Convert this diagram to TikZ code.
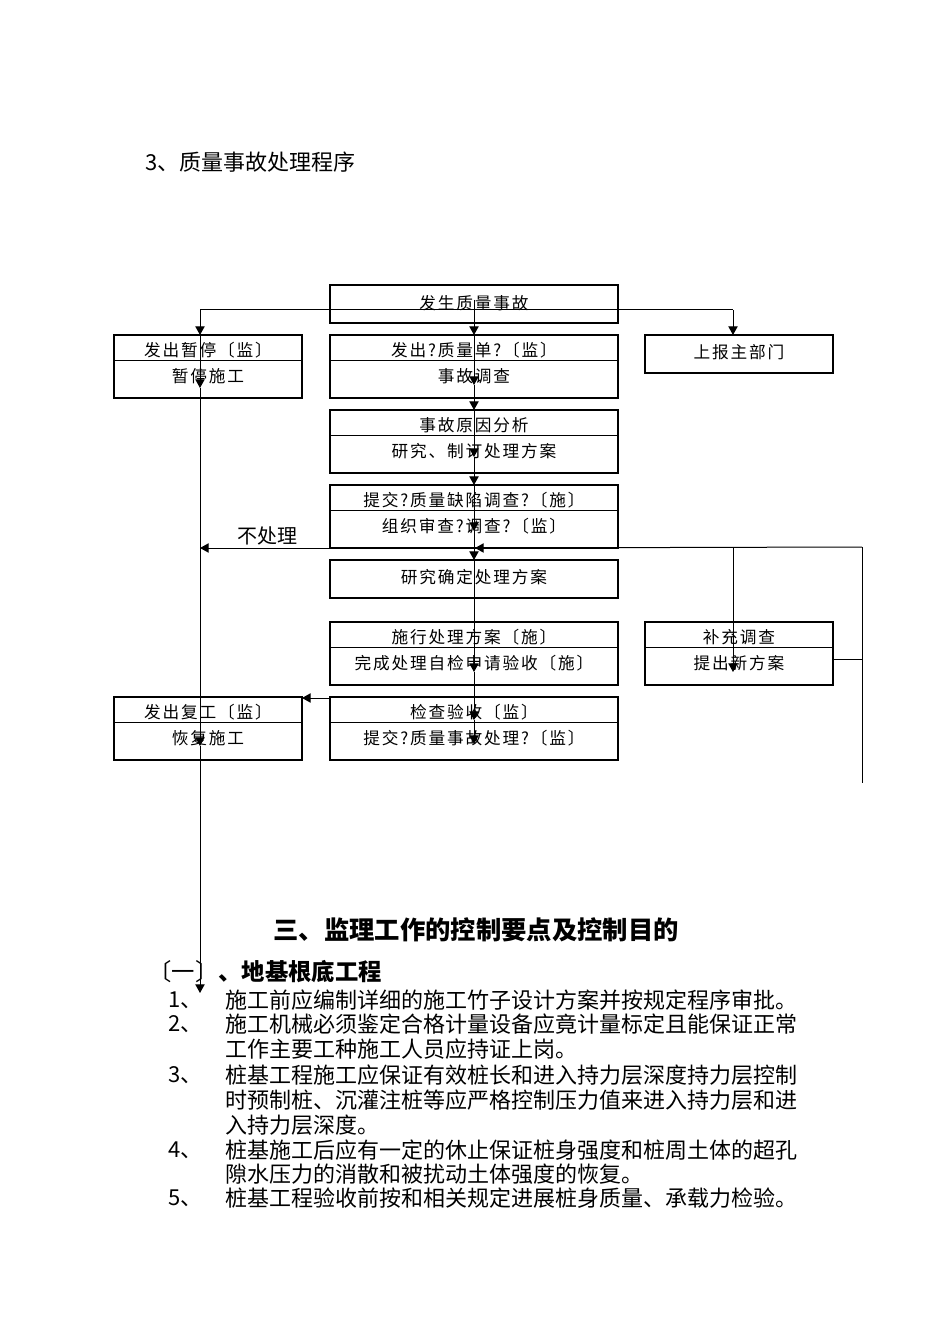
\documentclass[tikz,border=0pt]{standalone}
\usepackage{fontspec}
\setmainfont{Noto Sans CJK SC}
\newfontfamily\boxfont[LetterSpace=11]{Noto Sans CJK SC}
\usetikzlibrary{arrows.meta,positioning,calc}

\begin{document}
\begin{tikzpicture}[x=0.75pt,y=-0.75pt,>={Triangle[length=6.5pt,width=7pt]},
 node distance=9pt and 21pt,line width=0.75pt,
 box/.style={draw,line width=0.8pt,inner sep=0pt,outer sep=0pt,minimum width=216pt,minimum height=47.25pt},
 one/.style={box,minimum height=28.5pt},
 side/.style={minimum width=141pt},
 lbl/.style={inner sep=0pt,font=\boxfont\fontsize{12.5pt}{13pt}\selectfont},
 body/.style={inner sep=0pt,anchor=west,font=\fontsize{16.5pt}{18pt}\selectfont}]
\useasboundingbox (0,0) rectangle (950,1344);

\node[anchor=west,inner sep=0pt,font=\fontsize{16.5pt}{18pt}\selectfont] (ttl) at (145,162) {3、质量事故处理程序};

% flow boxes
\node[one,anchor=north] (a) at (474,285) {};
\node[box,below=of a] (b2) {};
\node[box,side,left=of b2] (b1) {};
\node[one,side,below right=0pt and 20.25pt of b2.north east] (b3) {};
\node[box,below=of b2] (c) {};
\node[box,below=of c] (d) {};
\node[one,below=of d] (e) {};
\node[box,below=18pt of e] (f) {};
\node[box,side,right=20.25pt of f] (f2) {};
\node[box,below=of f] (g) {};
\node[box,side,left=of g] (g2) {};
\foreach \n in {b1,b2,c,d,f,f2,g,g2}
  \draw ($(\n.north west)+(0,25)$) -- ($(\n.north east)+(0,25)$);

\node[lbl] (a1) at ($(a.center)+(0,-1)$) {发生质量事故};
\node[lbl] (b1a) at ($(b1.north)+(0,15)$) {发出暂停〔监〕};
\node[lbl] (b1b) at ($(b1.north)+(0,41)$) {暂停施工};
\node[lbl] (b2a) at ($(b2.north)+(0,15)$) {发出?质量单?〔监〕};
\node[lbl] (b2b) at ($(b2.north)+(0,41)$) {事故调查};
\node[lbl] (b3a) at ($(b3.center)+(0,-2)$) {上报主部门};
\node[lbl] (ca) at ($(c.north)+(0,15)$) {事故原因分析};
\node[lbl] (cb) at ($(c.north)+(0,41)$) {研究、制订处理方案};
\node[lbl] (da) at ($(d.north)+(0,15)$) {提交?质量缺陷调查?〔施〕};
\node[lbl] (db) at ($(d.north)+(0,41)$) {组织审查?调查?〔监〕};
\node[lbl] (ea) at ($(e.center)+(0,-2)$) {研究确定处理方案};
\node[lbl] (fa) at ($(f.north)+(0,15)$) {施行处理方案〔施〕};
\node[lbl] (fb) at ($(f.north)+(0,41)$) {完成处理自检申请验收〔施〕};
\node[lbl] (f2a) at ($(f2.north)+(0,15)$) {补充调查};
\node[lbl] (f2b) at ($(f2.north)+(0,41)$) {提出新方案};
\node[lbl] (ga) at ($(g.north)+(0,15)$) {检查验收〔监〕};
\node[lbl] (gb) at ($(g.north)+(0,41)$) {提交?质量事故处理?〔监〕};
\node[lbl] (g2a) at ($(g2.north)+(0,15)$) {发出复工〔监〕};
\node[lbl] (g2b) at ($(g2.north)+(0,41)$) {恢复施工};

% branch at the top
\coordinate (lft) at (200,310);
\coordinate (rgt) at (733,310);
\draw (lft) -- (rgt);
\draw[->] (rgt) -- (rgt |- b3.north);
\draw[->] (lft) -- (lft |- b1.north);

% left trunk
\coordinate (b1x) at ($(lft |- b1.north)+(0,53)$);
\coordinate (g2x) at ($(lft |- g2.north)+(0,49)$);
\coordinate (lend) at (200,993);
\draw[->] (lft |- b1.north) -- (b1x);
\draw[->] (b1x) -- (g2x);
\draw[->] (g2x) -- (lend);

% centre trunk
\coordinate (b2x) at ($(b2.north)+(0,50)$);
\coordinate (cx) at ($(c.north)+(0,47)$);
\coordinate (dx) at ($(d.north)+(0,46)$);
\coordinate (fx) at ($(f.north)+(0,50)$);
\coordinate (gx1) at ($(g.north)+(0,23)$);
\coordinate (gx2) at ($(g.north)+(0,47)$);
\draw[->] ($(a.center)+(0,-4)$) -- (b2.north);
\draw[->] (b2.north) -- (b2x);
\draw[->] (b2x) -- (c.north);
\draw[->] (c.north) -- (cx);
\draw[->] (cx) -- (d.north);
\draw[->] (d.north) -- (dx);
\draw[->] (dx) -- (e.north);
\draw[->] (e.north) -- (fx);
\draw[->] (fx) -- (gx1);
\draw[->] (gx1) -- (gx2);

% no treatment
\draw[->] (d.south west) -- (d.south west -| lft);
\node[inner sep=0pt,font=\fontsize{15pt}{16pt}\selectfont] (np) at (267,536) {不处理};

% loop on the right
\coordinate (rc) at (862,547);
\coordinate (rend) at (862,783);
\coordinate (f2x) at ($(rgt |- f2.north)+(0,50)$);
\coordinate (f2o) at ($(f2.east)+(0,6)$);
\draw[->] (rc) -- ($(d.south)+(1,0)$);
\draw[->] (rgt |- rc) -- (f2x);
\draw (rc) -- (rend);
\draw (f2o) -- (f2o -| rc);

% resume
\draw[->] ($(g.north west)+(0,1)$) -- ($(g2.north east)+(0,1)$);

% text below
\node[font=\bfseries\fontsize{19pt}{21pt}\selectfont] (h1) at (476,930) {三、监理工作的控制要点及控制目的};
\node[anchor=west,inner sep=0pt,font=\fontsize{17.5pt}{19pt}\selectfont] (h2) at (148,972) {〔一〕\bfseries 、地基根底工程};

\node[body] (n1) at (168,1000) {1、};
\node[body] (l1) at (225,1000) {施工前应编制详细的施工竹子设计方案并按规定程序审批。};
\node[body] (n2) at (168,1024) {2、};
\node[body] (l2) at (225,1024) {施工机械必须鉴定合格计量设备应竟计量标定且能保证正常};
\node[body] (l3) at (225,1049) {工作主要工种施工人员应持证上岗。};
\node[body] (n3) at (168,1075) {3、};
\node[body] (l4) at (225,1075) {桩基工程施工应保证有效桩长和进入持力层深度持力层控制};
\node[body] (l5) at (225,1100) {时预制桩、沉灌注桩等应严格控制压力值来进入持力层和进};
\node[body] (l6) at (225,1125) {入持力层深度。};
\node[body] (n4) at (168,1150) {4、};
\node[body] (l7) at (225,1150) {桩基施工后应有一定的休止保证桩身强度和桩周土体的超孔};
\node[body] (l8) at (225,1174) {隙水压力的消散和被扰动土体强度的恢复。};
\node[body] (n5) at (168,1198) {5、};
\node[body] (l9) at (225,1198) {桩基工程验收前按和相关规定进展桩身质量、承载力检验。};
\end{tikzpicture}
\end{document}
